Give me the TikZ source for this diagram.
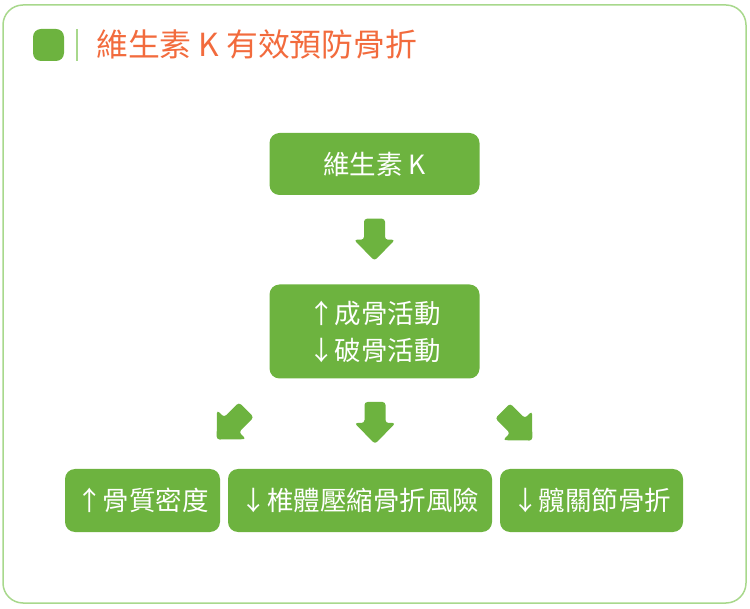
\documentclass[tikz,border=0pt]{standalone}
\usepackage{fontspec}
\setmainfont{Noto Sans CJK TC}
\usetikzlibrary{calc}
\definecolor{boxgreen}{HTML}{6DB33F}
\definecolor{framegreen}{HTML}{A8D88C}
\definecolor{titleorange}{HTML}{F26B3D}
\tikzset{
  greenbox/.style={fill=boxgreen, text=white, rounded corners=10pt, inner sep=0pt,
    align=center, font=\fontsize{26.5}{37}\selectfont},
  blockarrow/.pic={\fill[boxgreen, rounded corners=3pt] (-10.5,-21) -- (10.5,-21) -- (10.5,0) -- (20.5,0) -- (0,21) -- (-20.5,0) -- (-10.5,0) -- cycle;}
}
\begin{document}
\begin{tikzpicture}[x=1pt,y=-1pt]
\useasboundingbox (0,0) rectangle (750,609);
% frame
\draw[framegreen, line width=1.5pt, rounded corners=20pt] (3,5) rectangle (746,603);
% title
\fill[boxgreen, rounded corners=8pt] (33,29) rectangle (64,61);
\draw[framegreen, line width=1.3pt] (77,29) -- (77,61);
\node[anchor=west, inner sep=0pt, text=titleorange, font=\fontsize{31.8}{36}\selectfont] (title) at (96,44.5) {維生素 K 有效預防骨折};
% boxes
\node[greenbox, minimum width=210pt, minimum height=62pt] (vk) at (374.5,164) {維生素 K};
\node[greenbox, minimum width=210pt, minimum height=94pt] (act) at (374.5,331.5) {↑成骨活動\\↓破骨活動};
\node[greenbox, minimum width=155pt, minimum height=63pt] (bmd) at (142.5,500.5) {↑骨質密度};
\node[greenbox, minimum width=264pt, minimum height=63pt] (vert) at (360,500.5) {↓椎體壓縮骨折風險};
\node[greenbox, minimum width=183pt, minimum height=63pt] (hip) at (591.5,500.5) {↓髖關節骨折};
% block arrows
\pic at ($(vk.south)!0.5!(act.north)$) {blockarrow};
\pic at (375,423) {blockarrow};
\pic[rotate=-45] at (231.5,424.7) {blockarrow};
\pic[rotate=45] at (517.5,425.7) {blockarrow};
\end{tikzpicture}
\end{document}
